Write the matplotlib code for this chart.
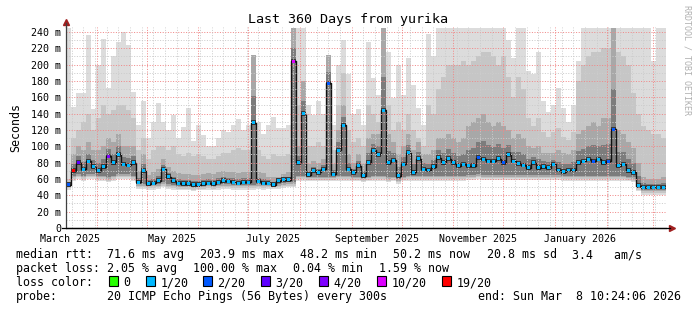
import numpy as np
import matplotlib
matplotlib.use("Agg")
import matplotlib.pyplot as plt
import matplotlib.dates as mdates
from matplotlib.patches import Rectangle
from datetime import datetime, timedelta

plt.rcParams['font.family'] = ['DejaVu Sans Mono']

# time range: last 360 days, 3-day bins
start = datetime(2025, 3, 13, 10, 24, 6)
bin_days = 3

# median rtt per bin (ms)
med = [53, 70, 80, 72, 82, 75, 70, 75, 88, 80,
       90, 78, 77, 80, 56, 70, 54, 55, 58, 72,
       63, 58, 55, 54, 54, 53, 53, 54, 55, 54,
       56, 58, 57, 56, 55, 56, 56, 129, 57, 55,
       55, 53, 58, 59, 59, 204, 80, 140, 65, 70,
       68, 72, 177, 66, 95, 126, 72, 68, 76, 64,
       80, 95, 90, 144, 80, 83, 64, 78, 92, 68,
       85, 72, 71, 75, 86, 80, 85, 80, 76, 78,
       76, 76, 86, 84, 82, 82, 85, 80, 90, 82,
       79, 77, 74, 80, 74, 75, 74, 78, 71, 69,
       71, 71, 80, 82, 84, 82, 84, 80, 82, 121,
       76, 78, 70, 68, 52, 50, 50, 50, 50, 50]

# lost pings out of 20 per bin
loss = [2, 19, 3, 1, 1, 1, 1, 1, 4, 1,
        1, 1, 1, 1, 1, 1, 1, 1, 1, 1,
        1, 1, 1, 1, 1, 1, 1, 1, 1, 1,
        1, 1, 1, 1, 1, 1, 1, 1, 1, 1,
        1, 1, 1, 1, 1, 10, 1, 1, 1, 1,
        1, 1, 2, 1, 1, 1, 1, 1, 1, 1,
        1, 1, 1, 1, 1, 1, 1, 1, 1, 1,
        1, 1, 1, 1, 1, 1, 1, 1, 1, 1,
        1, 1, 2, 1, 1, 1, 1, 2, 1, 1,
        1, 1, 1, 1, 1, 1, 1, 1, 1, 1,
        1, 1, 1, 1, 1, 2, 1, 1, 2, 2,
        1, 1, 1, 1, 1, 1, 1, 1, 1, 1]

# smoke: bottom, top of dark band, top of mid band, top (max)
lo = [47, 58, 60, 58, 60, 60, 58, 58, 56, 58, 60, 60, 60, 58, 48, 48, 47, 47, 48, 50,
      48, 47, 46, 46, 46, 45, 46, 46, 47, 46, 47, 48, 48, 47, 47, 47, 47, 47, 48, 47,
      48, 48, 48, 49, 50, 50, 58, 58, 57, 57, 57, 57, 57, 57, 58, 58, 58, 57, 57, 56,
      57, 58, 58, 58, 56, 57, 54, 57, 58, 58, 58, 58, 58, 58, 58, 58, 58, 58, 58, 58,
      59, 59, 60, 59, 59, 59, 59, 59, 59, 59, 59, 59, 59, 59, 59, 59, 59, 59, 59, 58,
      58, 58, 58, 58, 58, 58, 58, 58, 58, 58, 58, 58, 57, 56, 45, 41, 41, 41, 41, 41]

dark = [56, 90, 100, 95, 105, 95, 95, 100, 110, 105, 115, 100, 100, 100, 70, 90, 65, 68, 72, 85,
        75, 70, 67, 66, 66, 65, 65, 66, 67, 66, 68, 70, 69, 68, 67, 68, 68, 212, 69, 67,
        63, 62, 63, 66, 68, 245, 100, 180, 78, 82, 80, 85, 212, 78, 120, 150, 90, 80, 90, 78,
        110, 115, 115, 245, 115, 105, 90, 100, 115, 95, 105, 90, 90, 95, 110, 110, 115, 110, 105, 110,
        125, 130, 135, 140, 130, 125, 130, 125, 120, 110, 115, 110, 100, 98, 100, 92, 92, 92, 96, 92,
        90, 95, 115, 120, 125, 130, 125, 135, 135, 245, 120, 115, 105, 98, 80, 62, 60, 60, 60, 62]

mid = [60, 110, 120, 130, 140, 120, 135, 150, 140, 145, 150, 150, 145, 135, 95, 110, 85, 95, 100, 100,
       95, 100, 90, 88, 92, 88, 90, 88, 85, 85, 88, 92, 92, 95, 98, 95, 96, 150, 95, 88,
       85, 90, 88, 88, 90, 245, 150, 150, 100, 100, 105, 100, 200, 95, 150, 190, 120, 105, 110, 100,
       150, 140, 130, 160, 150, 120, 130, 120, 140, 120, 110, 100, 150, 140, 170, 185, 200, 200, 200, 205,
       200, 205, 210, 215, 215, 210, 200, 210, 185, 160, 185, 170, 135, 125, 135, 118, 112, 118, 122, 112,
       108, 118, 180, 200, 210, 215, 215, 220, 220, 245, 215, 210, 200, 165, 140, 125, 120, 115, 115, 110]

hi = [245, 148, 165, 165, 236, 146, 200, 232, 171, 210, 228, 240, 224, 167, 126, 155, 110, 130, 153, 130,
      120, 138, 110, 124, 147, 106, 126, 114, 100, 100, 110, 120, 118, 126, 134, 120, 126, 212, 130, 115,
      126, 136, 122, 122, 126, 245, 245, 245, 150, 138, 155, 140, 212, 126, 200, 230, 188, 140, 146, 126,
      228, 184, 163, 245, 216, 159, 200, 163, 208, 175, 147, 126, 238, 210, 245, 245, 245, 245, 245, 245,
      245, 245, 245, 245, 245, 245, 245, 245, 230, 208, 245, 245, 192, 188, 216, 155, 142, 151, 171, 147,
      130, 150, 204, 245, 245, 245, 245, 245, 245, 245, 245, 245, 245, 245, 245, 245, 245, 205, 245, 245]

loss_colors = {0: '#26ff00', 1: '#00b8ff', 2: '#0059ff', 3: '#5e00ff',
               4: '#7e00ff', 10: '#dd00ff', 19: '#ff0000'}
loss_labels = ['0', '1/20', '2/20', '3/20', '4/20', '10/20', '19/20']

month_labels = ['March 2025', 'May 2025', 'July 2025', 'September 2025',
                'November 2025', 'January 2026']
label_dates = [datetime(2025, 3, 16), datetime(2025, 5, 16), datetime(2025, 7, 16),
               datetime(2025, 9, 16), datetime(2025, 11, 16), datetime(2026, 1, 16)]

W, H = 697, 310
fig = plt.figure(figsize=(W / 100, H / 100), dpi=100)
fig.patch.set_facecolor('white')
ymax = 246
ax = fig.add_axes([65.7 / W, (H - 228) / H, 600 / W, ymax * 0.8167 / H])

edges = mdates.date2num([start + timedelta(days=bin_days * i) for i in range(len(med) + 1)])


def ext(a):
    a = np.asarray(a, dtype=float)
    return np.append(a, a[-1])


m = ext(med)
# smoke layers, light outside, dark near the median
ax.fill_between(edges, ext(lo), ext(hi), step='post', color='#dcdcdc', lw=0, zorder=1)
ax.fill_between(edges, ext(lo) + 2, ext(mid), step='post', color='#c6c6c6', lw=0, zorder=2)
ax.fill_between(edges, ext(lo) + 4, ext(dark), step='post', color='#a8a8a8', lw=0, zorder=3)
ax.fill_between(edges, ext(lo) + 6, m + 0.4 * (ext(dark) - m), step='post', color='#7c7c7c', lw=0, zorder=3)
ax.fill_between(edges, m - 2.5, m + 3, step='post', color='#3a3a3a', lw=0, zorder=4)
ax.step(edges, m, where='post', color='#111111', lw=1.0, zorder=5)

# grid (rrdtool draws it over the graph)
dot = (0, (1, 1.6))
gkw = dict(ls=dot, lw=0.72, zorder=6)
for v in range(10, 241, 20):
    ax.axhline(v, color='#cccccc', **gkw)
for v in range(20, 241, 20):
    ax.axhline(v, color='#f08888', **gkw)
d = start.date()
end = start + timedelta(days=360)
cur = datetime(d.year, d.month, d.day) + timedelta(days=1)
while cur < end:
    if cur.day == 1:
        ax.axvline(mdates.date2num(cur), color='#f08888', **gkw)
    elif cur.weekday() == 0:
        ax.axvline(mdates.date2num(cur), color='#cccccc', **gkw)
    cur += timedelta(days=1)

# median markers coloured by loss
ax.bar(edges[:-1] + bin_days / 2, 3.6, width=1.9, bottom=np.array(med) - 1.8, align='center',
       color=[loss_colors[k] for k in loss], lw=0, zorder=7)

ax.set_xlim(edges[0], edges[-1])
ax.set_ylim(0, ymax)
for s in ['top', 'right']:
    ax.spines[s].set_visible(False)
ax.spines['left'].set_color('#404040')
ax.spines['bottom'].set_color('black')
ax.spines['left'].set_linewidth(0.9)
ax.spines['bottom'].set_linewidth(0.9)
ax.spines['left'].set_zorder(8)
ax.spines['bottom'].set_zorder(8)

ax.set_yticks(range(0, 241, 20), ['0'] + [f'{v} m' for v in range(20, 241, 20)])
ax.set_xticks(mdates.date2num(label_dates), month_labels)
ax.tick_params(axis='both', length=0, labelsize=7.2)
ax.tick_params(axis='y', pad=3.4)
ax.tick_params(axis='x', pad=4)
for t in ax.get_yticklabels():
    t.set_va('center_baseline')

# axis extensions and arrows
ax.plot([0, 0], [1, 1.02], transform=ax.transAxes, color='#404040', lw=0.9, clip_on=False, zorder=8)
ax.plot([-0.006, 1.007], [0, 0], transform=ax.transAxes, color='black', lw=0.9, clip_on=False, zorder=8)
ax.plot([0], [1.025], transform=ax.transAxes, marker='^', ms=4, color='#a02020', clip_on=False)
ax.plot([1.01], [0], transform=ax.transAxes, marker='>', ms=4, color='#a02020', clip_on=False)

ax.set_ylabel('Seconds', fontsize=8.4, labelpad=6)
fig.text(347.5 / W, 1 - 19 / H, 'Last 360 Days from yurika', ha='center', va='center', fontsize=9.6)
fig.text(687 / W, 1 - 60 / H, 'RRDTOOL / TOBI OETIKER', rotation=270, ha='center', va='center',
         fontsize=6, color='#b0b0b0')


def put(x, base, s):
    fig.text(x / W, 1 - base / H, s, ha='left', va='baseline', fontsize=8.4)


put(16, 258, 'median rtt:')
put(107, 258, '71.6 ms avg')
put(200, 258, '203.9 ms max')
put(300, 258, '48.2 ms min')
put(393, 258, '50.2 ms now')
put(487, 258, '20.8 ms sd')
put(572, 258, '3.4   am/s')

put(16, 272, 'packet loss:')
put(107, 272, '2.05 % avg')
put(193, 272, '100.00 % max')
put(293, 272, '0.04 % min')
put(379, 272, '1.59 % now')

put(16, 286, 'loss color:')
sq_x = [108.7, 145.7, 202.7, 261, 319.3, 376.7, 441.7]
for x, lab, k in zip(sq_x, loss_labels, [0, 1, 2, 3, 4, 10, 19]):
    fig.patches.append(Rectangle((x / W, 1 - 286 / H), 9 / W, 10 / H, transform=fig.transFigure,
                                 facecolor=loss_colors[k], edgecolor='black', lw=0.8))
    put(x + 14.5, 286, lab)

put(16, 300, 'probe:')
put(107, 300, '20 ICMP Echo Pings (56 Bytes) every 300s')
put(478, 300, 'end: Sun Mar  8 10:24:06 2026')

fig.savefig('out.png', dpi=100, facecolor='white')
